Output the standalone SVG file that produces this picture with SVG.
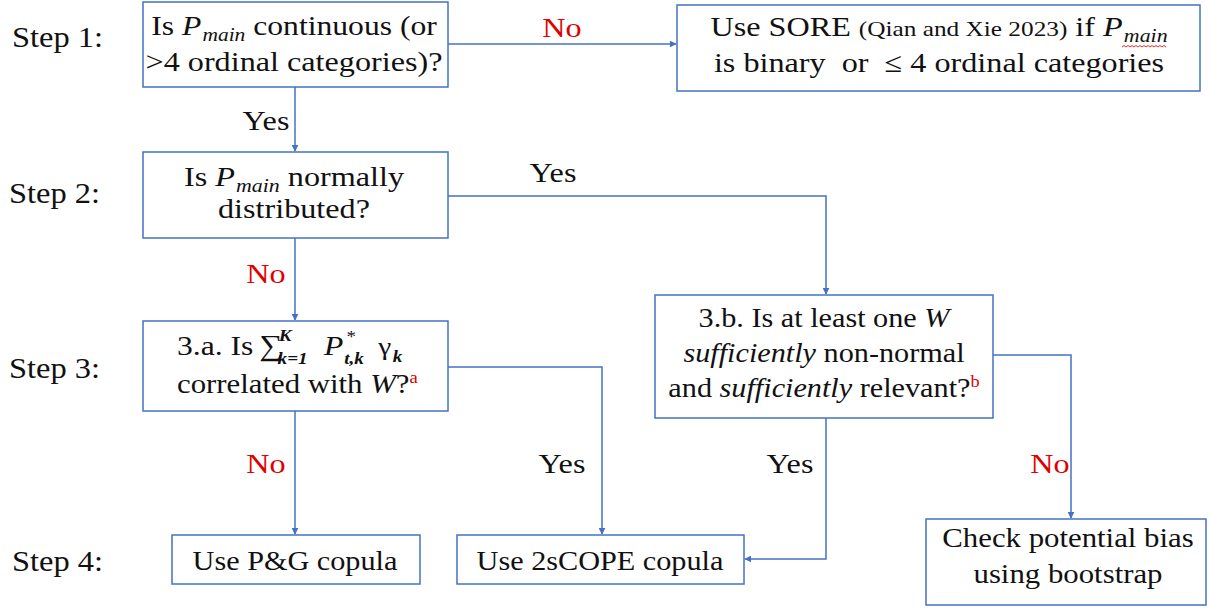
<svg xmlns="http://www.w3.org/2000/svg" width="1210" height="608" viewBox="0 0 1210 608" font-family="'Liberation Serif', 'DejaVu Serif', serif">
<style>
  text { font-family: "Liberation Serif", "DejaVu Serif", serif; fill: #111; }
  .t { font-size: 28px; }
  .st { font-size: 29px; }
  .it { font-style: italic; }
  .sub { font-size: 19px; font-style: italic; }
  .small { font-size: 22px; }
  .red { fill: #e00000; }
  .box { fill: #ffffff; stroke: #4472c4; stroke-width: 1.5; }
  .edge { fill: none; stroke: #4472c4; stroke-width: 1.5; }
  .m { font-size: 17px; font-style: italic; font-weight: bold; }
</style>
<defs>
  <marker id="arr" viewBox="0 0 10 10" refX="9" refY="5" markerWidth="7" markerHeight="7" orient="auto" markerUnits="userSpaceOnUse">
    <path d="M0,0 L10,5 L0,10 z" fill="#4472c4"/>
  </marker>
</defs>
<rect width="1210" height="608" fill="#ffffff"/>

<g id="step-labels">
  <text class="st" transform="translate(12,47) scale(1.12,1)">Step 1:</text>
  <text class="st" transform="translate(9,203) scale(1.12,1)">Step 2:</text>
  <text class="st" transform="translate(9,378) scale(1.12,1)">Step 3:</text>
  <text class="st" transform="translate(12,571) scale(1.12,1)">Step 4:</text>
</g>

<g id="connectors">
  <path class="edge" d="M448,44 H676" marker-end="url(#arr)"/>
  <path class="edge" d="M295,87 V151" marker-end="url(#arr)"/>
  <path class="edge" d="M448,196 H826 V294" marker-end="url(#arr)"/>
  <path class="edge" d="M295,238 V320" marker-end="url(#arr)"/>
  <path class="edge" d="M448,367 H602 V534" marker-end="url(#arr)"/>
  <path class="edge" d="M295,411 V534" marker-end="url(#arr)"/>
  <path class="edge" d="M826,418 V559 H745" marker-end="url(#arr)"/>
  <path class="edge" d="M993,355 H1071 V518" marker-end="url(#arr)"/>
  <text class="t red" text-anchor="middle" transform="translate(562,37) scale(1.15,1)">No</text>
  <text class="t" text-anchor="middle" transform="translate(266,130) scale(1.15,1)">Yes</text>
  <text class="t" text-anchor="middle" transform="translate(553,182) scale(1.15,1)">Yes</text>
  <text class="t red" text-anchor="middle" transform="translate(266,283) scale(1.15,1)">No</text>
  <text class="t red" text-anchor="middle" transform="translate(266,473) scale(1.15,1)">No</text>
  <text class="t" text-anchor="middle" transform="translate(562,473) scale(1.15,1)">Yes</text>
  <text class="t" text-anchor="middle" transform="translate(790,473) scale(1.15,1)">Yes</text>
  <text class="t red" text-anchor="middle" transform="translate(1050,473) scale(1.15,1)">No</text>
</g>

<g id="step1">
  <rect class="box" x="143" y="2" width="305" height="85"/>
  <text class="t" text-anchor="middle" transform="translate(294,35) scale(1.13,1)">Is <tspan class="it">P</tspan><tspan class="sub" dx="1" dy="6">main</tspan><tspan dy="-6"> continuous (or</tspan></text>
  <text class="t" text-anchor="middle" transform="translate(294,71) scale(1.15,1)">&gt;4 ordinal categories)?</text>
</g>

<g id="sore">
  <rect class="box" x="677" y="5" width="523" height="86"/>
  <text class="t" text-anchor="middle" transform="translate(939,36) scale(1.15,1)">Use SORE <tspan class="small">(Qian and Xie 2023)</tspan> if <tspan class="it">P</tspan><tspan class="sub" dx="1" dy="6">main</tspan></text>
  <path d="M1122,47 l2,-1.5 l2,1.5 l2,-1.5 l2,1.5 l2,-1.5 l2,1.5 l2,-1.5 l2,1.5 l2,-1.5 l2,1.5 l2,-1.5 l2,1.5 l2,-1.5 l2,1.5 l2,-1.5 l2,1.5 l2,-1.5 l2,1.5 l2,-1.5 l2,1.5 l2,-1.5 l2,1.5" fill="none" stroke="#e03030" stroke-width="1"/>
  <text class="t" text-anchor="middle" transform="translate(939,72) scale(1.15,1)">is binary <tspan dx="7">or</tspan><tspan dx="14">≤ 4 ordinal categories</tspan></text>
</g>

<g id="step2">
  <rect class="box" x="143" y="152" width="305" height="86"/>
  <text class="t" text-anchor="middle" transform="translate(294,186) scale(1.15,1)">Is <tspan class="it">P</tspan><tspan class="sub" dx="1" dy="6">main</tspan><tspan dy="-6"> normally</tspan></text>
  <text class="t" text-anchor="middle" transform="translate(294,218) scale(1.15,1)">distributed?</text>
</g>

<g id="step3a">
  <rect class="box" x="143" y="321" width="305" height="90"/>
  <g transform="translate(177,355) scale(1.13,1)">
    <text class="t" x="0" y="0">3.a. Is</text>
    <text x="73" y="0" font-size="29">∑</text>
    <text class="m" x="90" y="-14">K</text>
    <text class="m" x="89" y="9">k=1</text>
    <text class="t it" x="130" y="0">P</text>
    <text font-size="17" x="150" y="-13">*</text>
    <text class="m" x="148" y="9">t,k</text>
    <text font-size="26" x="178" y="0">γ</text>
    <text class="m" x="191" y="7">k</text>
  </g>
  <text class="t" transform="translate(177,393) scale(1.1,1)">correlated with <tspan class="it">W</tspan>?<tspan class="red" font-size="17" dy="-10">a</tspan></text>
</g>

<g id="step3b">
  <rect class="box" x="655" y="295" width="338" height="123"/>
  <text class="t" text-anchor="middle" transform="translate(824,327) scale(1.08,1)">3.b. Is at least one <tspan class="it">W</tspan></text>
  <text class="t" text-anchor="middle" transform="translate(824,362) scale(1.08,1)"><tspan class="it">sufficiently</tspan> non-normal</text>
  <text class="t" text-anchor="middle" transform="translate(824,397) scale(1.08,1)">and <tspan class="it">sufficiently</tspan> relevant?<tspan class="red" font-size="17" dy="-10">b</tspan></text>
</g>

<g id="pg">
  <rect class="box" x="172" y="535" width="248" height="49"/>
  <text class="t" text-anchor="middle" transform="translate(295,570) scale(1.08,1)">Use P&amp;G copula</text>
</g>

<g id="twoscope">
  <rect class="box" x="457" y="535" width="287" height="49"/>
  <text class="t" text-anchor="middle" transform="translate(600,570) scale(1.08,1)">Use 2sCOPE copula</text>
</g>

<g id="bootstrap">
  <rect class="box" x="926" y="519" width="280" height="86"/>
  <text class="t" text-anchor="middle" transform="translate(1068,547) scale(1.1,1)">Check potential bias</text>
  <text class="t" text-anchor="middle" transform="translate(1068,583) scale(1.1,1)">using bootstrap</text>
</g>
</svg>
